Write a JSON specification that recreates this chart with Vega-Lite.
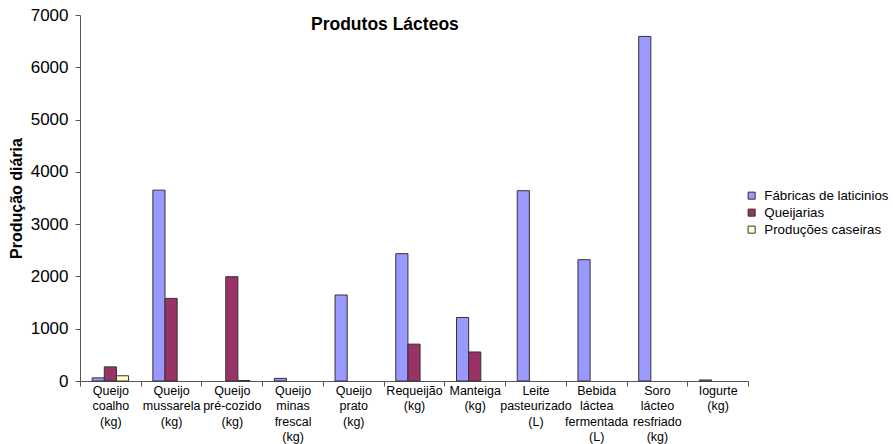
{
  "$schema": "https://vega.github.io/schema/vega-lite/v6.json",
  "autosize": "none",
  "padding": {"left": 80, "top": 15, "right": 145, "bottom": 63},
  "width": 668,
  "height": 366,
  "background": "white",
  "config": {
    "font": "Liberation Sans",
    "view": {"stroke": null}
  },
  "title": {
    "text": "Produtos Lácteos",
    "fontSize": 17.5,
    "fontWeight": "bold",
    "color": "black",
    "anchor": "start",
    "frame": "group",
    "baseline": "top",
    "dx": 231,
    "offset": -27
  },
  "data": {
    "values": [
      {"produto": "Queijo|coalho|(kg)", "origem": "Fábricas de laticinios", "producao": 60},
      {"produto": "Queijo|coalho|(kg)", "origem": "Queijarias", "producao": 270},
      {"produto": "Queijo|coalho|(kg)", "origem": "Produções caseiras", "producao": 100},
      {"produto": "Queijo|mussarela|(kg)", "origem": "Fábricas de laticinios", "producao": 3650},
      {"produto": "Queijo|mussarela|(kg)", "origem": "Queijarias", "producao": 1580},
      {"produto": "Queijo|pré-cozido|(kg)", "origem": "Queijarias", "producao": 1995},
      {"produto": "Queijo|pré-cozido|(kg)", "origem": "Produções caseiras", "producao": 10},
      {"produto": "Queijo|minas|frescal|(kg)", "origem": "Fábricas de laticinios", "producao": 50},
      {"produto": "Queijo|prato|(kg)", "origem": "Fábricas de laticinios", "producao": 1645},
      {"produto": "Requeijão|(kg)", "origem": "Fábricas de laticinios", "producao": 2435},
      {"produto": "Requeijão|(kg)", "origem": "Queijarias", "producao": 705},
      {"produto": "Manteiga|(kg)", "origem": "Fábricas de laticinios", "producao": 1215},
      {"produto": "Manteiga|(kg)", "origem": "Queijarias", "producao": 555},
      {"produto": "Leite|pasteurizado|(L)", "origem": "Fábricas de laticinios", "producao": 3640},
      {"produto": "Bebida|láctea|fermentada|(L)", "origem": "Fábricas de laticinios", "producao": 2320},
      {"produto": "Soro|lácteo|resfriado|(kg)", "origem": "Fábricas de laticinios", "producao": 6590},
      {"produto": "Iogurte|(kg)", "origem": "Fábricas de laticinios", "producao": 20}
    ]
  },
  "mark": {"type": "bar", "stroke": "#333333", "strokeWidth": 1},
  "encoding": {
    "x": {
      "field": "produto",
      "type": "nominal",
      "sort": null,
      "scale": {"paddingInner": 0, "paddingOuter": 0},
      "axis": {
        "title": null,
        "labelAngle": 0,
        "labelExpr": "split(datum.label, '|')",
        "labelFontSize": 12.5,
        "labelLineHeight": 15.5,
        "labelColor": "black",
        "labelPadding": -2,
        "labelBaseline": "top",
        "tickBand": "extent",
        "tickSize": 5,
        "tickColor": "#555555",
        "domainColor": "#555555",
        "labelLimit": 0
      }
    },
    "xOffset": {
      "field": "origem",
      "type": "nominal",
      "sort": ["Fábricas de laticinios", "Queijarias", "Produções caseiras"],
      "scale": {"paddingInner": 0, "paddingOuter": 1.55}
    },
    "y": {
      "field": "producao",
      "type": "quantitative",
      "scale": {"domain": [0, 7000], "nice": false},
      "axis": {
        "title": "Produção diária",
        "titleFontSize": 16,
        "titleFontWeight": "bold",
        "titleColor": "black",
        "titlePadding": 6,
        "values": [0, 1000, 2000, 3000, 4000, 5000, 6000, 7000],
        "format": "d",
        "grid": false,
        "labelFontSize": 17,
        "labelColor": "black",
        "labelPadding": 7,
        "tickSize": 5,
        "tickColor": "#555555",
        "domainColor": "#555555"
      }
    },
    "color": {
      "field": "origem",
      "type": "nominal",
      "sort": ["Fábricas de laticinios", "Queijarias", "Produções caseiras"],
      "scale": {
        "domain": ["Fábricas de laticinios", "Queijarias", "Produções caseiras"],
        "range": ["#9999FF", "#993366", "#FFFFCC"]
      },
      "legend": {
        "title": null,
        "orient": "none",
        "legendX": 665,
        "legendY": 174,
        "symbolType": "square",
        "symbolSize": 50,
        "symbolStrokeColor": "#333333",
        "symbolStrokeWidth": 1,
        "labelFontSize": 13.3,
        "labelColor": "black",
        "labelOffset": 6,
        "rowPadding": 3,
        "labelLimit": 0
      }
    }
  }
}
